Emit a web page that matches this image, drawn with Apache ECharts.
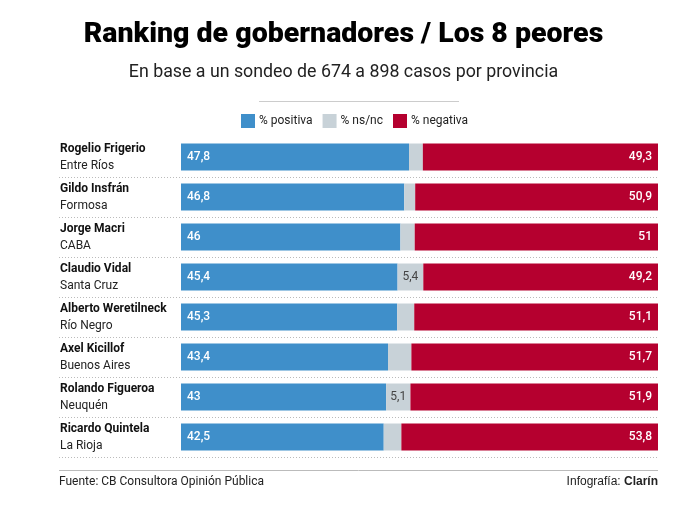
<!DOCTYPE html>
<html>
<head>
<meta charset="UTF-8">
<title>Ranking de gobernadores</title>
<script type="text/javascript" src="https://cdn.jsdelivr.net/npm/echarts@6/dist/echarts.min.js"></script>
<style type="text/css">
	html, body { margin: 0; padding: 0; background: #fff; }
	#main { width: 687px; height: 510px; }
</style>
</head>
<body>
<div id="main"></div>
<script type="text/javascript">
	// datos
	var nombres = ['Rogelio Frigerio', 'Gildo Insfrán', 'Jorge Macri', 'Claudio Vidal',
		'Alberto Weretilneck', 'Axel Kicillof', 'Rolando Figueroa', 'Ricardo Quintela'];
	var provincias = ['Entre Ríos', 'Formosa', 'CABA', 'Santa Cruz',
		'Río Negro', 'Buenos Aires', 'Neuquén', 'La Rioja'];
	var positiva = [47.8, 46.8, 46, 45.4, 45.3, 43.4, 43, 42.5];
	var nsnc = [2.9, 2.3, 3, 5.4, 3.6, 4.9, 5.1, 3.7];
	var negativa = [49.3, 50.9, 51, 49.2, 51.1, 51.7, 51.9, 53.8];

	var fuente = 'Roboto, "Noto Sans", sans-serif';
	var coma = function (v) { return String(v).replace('.', ','); };

	var categorias = nombres.map(function (n, i) { return n + '|' + provincias[i]; });

	var myChart = echarts.init(document.getElementById('main'));

	var option = {
		animation: false,
		textStyle: { fontFamily: fuente },
		title: [{
			text: 'Ranking de gobernadores / Los 8 peores',
			left: 'center', top: 15,
			textStyle: { fontFamily: fuente, fontSize: 28.5, fontWeight: 900, color: '#000' }
		}, {
			text: 'En base a un sondeo de 674 a 898 casos por provincia',
			left: 'center', top: 59,
			textStyle: { fontFamily: fuente, fontSize: 17.8, fontWeight: 'normal', color: '#222' }
		}],
		legend: {
			top: 114, left: 241, padding: 0,
			icon: 'rect', itemWidth: 14, itemHeight: 14, itemGap: 10,
			textStyle: { fontSize: 12, color: '#222', padding: [0, 0, 0, -1] },
			data: ['% positiva', '% ns/nc', '% negativa']
		},
		grid: [
			{ left: 181, right: 29, top: 137, height: 320 },
			{ left: 59, right: 29, top: 137, height: 320 }
		],
		xAxis: [
			{ type: 'value', min: 0, max: 100, show: false, gridIndex: 0 },
			{ type: 'value', min: 0, max: 1, show: false, gridIndex: 1 }
		],
		yAxis: [{
			type: 'category', inverse: true, gridIndex: 0,
			data: categorias,
			axisLine: { show: false }, axisTick: { show: false },
			axisLabel: {
				align: 'left', margin: 121,
				formatter: function (v) {
					var p = v.split('|');
					return '{n|' + p[0] + '}\n{p|' + p[1] + '}';
				},
				rich: {
					n: { fontFamily: fuente, fontSize: 12, fontWeight: 'bold', color: '#111', lineHeight: 17 },
					p: { fontFamily: fuente, fontSize: 12, color: '#222', lineHeight: 17 }
				}
			}
		}, {
			type: 'category', inverse: true, gridIndex: 1,
			data: categorias,
			axisLine: { show: false }, axisTick: { show: false }, axisLabel: { show: false },
			splitLine: {
				show: true,
				interval: function (i) { return i > 0 && i < 8; },
				lineStyle: { type: [1, 2], color: '#bbb', width: 1 }
			}
		}],
		series: [{
			name: '% positiva', type: 'bar', stack: 'total', barWidth: 27,
			data: positiva,
			itemStyle: { color: '#3f8fca' },
			label: {
				show: true, position: 'insideLeft', offset: [1, 0],
				color: '#fff', fontSize: 12, fontWeight: 500,
				formatter: function (p) { return coma(p.value); }
			}
		}, {
			name: '% ns/nc', type: 'bar', stack: 'total', barWidth: 27,
			data: nsnc,
			itemStyle: { color: '#c8d2d8' },
			label: {
				show: true, position: 'inside',
				color: '#444', fontSize: 12,
				formatter: function (p) { return p.value >= 5 ? coma(p.value) : ''; }
			}
		}, {
			name: '% negativa', type: 'bar', stack: 'total', barWidth: 27,
			data: negativa,
			itemStyle: { color: '#b5002f' },
			label: {
				show: true, position: 'insideRight', offset: [-1, 0],
				color: '#fff', fontSize: 12, fontWeight: 500,
				formatter: function (p) { return coma(p.value); }
			}
		}],
		graphic: [
			{ type: 'line', shape: { x1: 259, y1: 101.5, x2: 459, y2: 101.5 }, style: { stroke: '#ccc', lineWidth: 1 } },
			{ type: 'line', shape: { x1: 59, y1: 470.5, x2: 658, y2: 470.5 }, style: { stroke: '#bbb', lineWidth: 1 } },
			{ type: 'text', left: 59, top: 476, style: { text: 'Fuente: CB Consultora Opinión Pública', font: '12px ' + fuente, fill: '#222' } },
			{ type: 'text', right: 29, top: 476, style: { text: '{a|Infografía: }{b|Clarín}', font: '12px ' + fuente, fill: '#222',
				rich: { a: { fontSize: 12, color: '#222' }, b: { fontSize: 12, fontWeight: 'bold', color: '#111' } } } }
		]
	};

	myChart.setOption(option);
</script>
</body>
</html>
